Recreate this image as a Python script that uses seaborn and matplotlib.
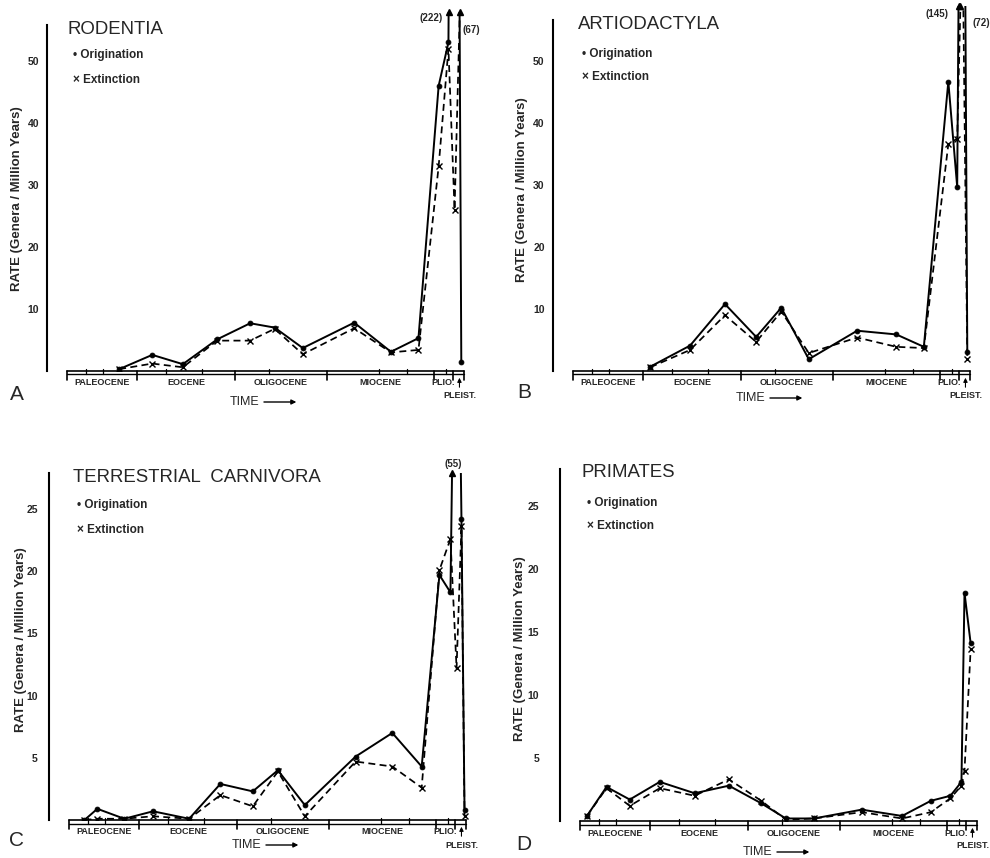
import matplotlib
matplotlib.use("Agg")
import matplotlib.pyplot as plt
import seaborn as sns

# time axis: millions of years, negative = before present
epoch_bounds = [-65, -53.5, -37.5, -22.5, -5, -1.8, 0]
epoch_names = ["PALEOCENE", "EOCENE", "OLIGOCENE", "MIOCENE"]
sub_bounds = [-61.9, -59, -48.8, -42.8, -32, -14, -9.3, -3]

# A - Rodentia
rod_time = [-56.4, -51.0, -46.0, -40.4, -35.0, -31.0, -26.4, -18.0, -12.0, -7.5, -4.2, -2.6, -1.6, -0.5]
rod_orig = [0.3, 2.6, 1.1, 5.1, 7.7, 7.0, 3.7, 7.8, 3.1, 5.3, 46.0, 53.0, 222, 1.5]
rod_ext = [0.3, 1.2, 0.6, 4.9, 4.9, 6.8, 2.7, 6.9, 3.0, 3.4, 33.0, 52.0, 26.0, 67]

# B - Artiodactyla
art_time = [-52.3, -45.8, -40.1, -35.0, -30.9, -26.4, -18.5, -12.1, -7.6, -3.6, -2.15, -1.3, -0.5]
art_orig = [0.7, 4.1, 10.8, 5.5, 10.2, 1.9, 6.5, 5.9, 3.9, 46.7, 29.7, 145, 3.1]
art_ext = [0.6, 3.4, 9.0, 4.7, 9.6, 2.9, 5.4, 3.9, 3.7, 36.6, 37.5, 72, 2.0]

# C - Terrestrial Carnivora
car_time = [-62.4, -60.3, -55.9, -51.2, -45.3, -40.2, -34.9, -30.8, -26.4, -18.1, -12.1, -7.3, -4.4, -2.6, -1.6, -0.8, -0.3]
car_orig = [0.0, 0.9, 0.1, 0.7, 0.1, 2.9, 2.3, 4.0, 1.2, 5.1, 7.0, 4.3, 19.7, 18.3, 55, 24.2, 0.8]
car_ext = [0.0, 0.1, 0.1, 0.3, 0.1, 2.0, 1.1, 3.9, 0.3, 4.7, 4.3, 2.6, 20.1, 22.6, 12.2, 23.6, 0.3]

# D - Primates
pri_time = [-63.8, -60.6, -56.8, -51.9, -46.2, -40.6, -35.3, -31.3, -26.7, -18.9, -12.3, -7.6, -4.4, -2.6, -2.1, -1.1]
pri_orig = [0.4, 2.7, 1.7, 3.1, 2.2, 2.8, 1.4, 0.2, 0.2, 0.9, 0.4, 1.6, 2.0, 3.1, 18.1, 14.1]
pri_ext = [0.4, 2.6, 1.2, 2.6, 2.0, 3.3, 1.6, 0.1, 0.2, 0.7, 0.2, 0.7, 1.8, 2.8, 4.0, 13.6]

W, H = 990, 858
sns.set_style("white")
plt.rcParams["font.family"] = ["Liberation Sans", "DejaVu Sans"]

fig = plt.figure(figsize=(W / 100, H / 100), dpi=100)
PT = 100 / 72  # pixels per point


def draw_panel(rect_px, title, t, orig, ext, ymax, spine_top, yticks, tick_pad,
               ylab_xy, title_xy, leg_xy, time_drop, offscale):
    left, top, width, bottom = rect_px
    hpx = bottom - top
    ax = fig.add_axes([left / W, 1 - bottom / H, width / W, hpx / H])

    sns.lineplot(x=t, y=orig, ax=ax, color="black", linewidth=1.4, marker="o",
                 markersize=3.5, markeredgecolor="black", markeredgewidth=0.6,
                 sort=False, errorbar=None)
    sns.lineplot(x=t, y=ext, ax=ax, color="black", linewidth=1.25,
                 linestyle=(0, (4, 2.5)), marker="x", markersize=4,
                 markeredgecolor="black", markeredgewidth=1.0,
                 sort=False, errorbar=None)

    ax.set_xlim(-68.2, 1.2)
    ax.set_ylim(0, ymax)
    for s in ["top", "right", "bottom"]:
        ax.spines[s].set_visible(False)
    ax.spines["left"].set_linewidth(1.5)
    ax.spines["left"].set_color("black")
    ax.spines["left"].set_bounds(0, spine_top)
    ax.set_xticks([])
    ax.set_yticks(yticks)
    ax.set_yticklabels([str(v) for v in yticks], fontweight="bold")
    ax.tick_params(axis="y", direction="out", length=2, width=1, labelsize=7.5,
                   pad=tick_pad, color="black")
    ax.set_xlabel("")
    ax.set_ylabel("RATE (Genera / Million Years)", fontsize=9.5, fontweight="bold")
    ax.yaxis.set_label_coords(*ylab_xy)

    # title and legend text
    ax.text(title_xy[0], title_xy[1], title, fontsize=13.4, va="center", ha="left")
    ax.text(leg_xy[0], leg_xy[1], "\u2022 Origination", fontsize=8.5,
            fontweight="bold", va="center", ha="left")
    ax.text(leg_xy[0], leg_xy[2], "\u00d7 Extinction", fontsize=8.5,
            fontweight="bold", va="center", ha="left")

    # time bar
    tr = ax.get_xaxis_transform()

    def dy(px):
        return -px / hpx

    kw = dict(transform=tr, color="black", clip_on=False)
    ax.plot([epoch_bounds[0], epoch_bounds[-1]], [0, 0], lw=1.2, **kw)
    ax.plot([epoch_bounds[0], epoch_bounds[-1]], [dy(3.5), dy(3.5)], lw=1.0, **kw)
    for b in epoch_bounds:
        ax.plot([b, b], [0, dy(9)], lw=1.2, **kw)
    for b in sub_bounds:
        ax.plot([b, b], [dy(-2), dy(3.5)], lw=0.9, **kw)
    for i, name in enumerate(epoch_names):
        mid = (epoch_bounds[i] + epoch_bounds[i + 1]) / 2
        ax.text(mid, dy(12), name, transform=tr, ha="center", va="center",
                fontsize=6.5, fontweight="bold")
    ax.text((epoch_bounds[4] + epoch_bounds[5]) / 2, dy(12), "PLIO.", transform=tr,
            ha="center", va="center", fontsize=6.5, fontweight="bold")
    ax.text(-0.8, dy(25), "PLEIST.", transform=tr, ha="center", va="center",
            fontsize=6.5, fontweight="bold")
    ax.annotate("", xy=(-0.8, dy(4)), xycoords=tr, xytext=(-0.8, dy(19)),
                textcoords=tr, annotation_clip=False,
                arrowprops=dict(arrowstyle="-|>", lw=0.8, color="black",
                                mutation_scale=6))
    ax.text(-38.3, dy(time_drop), "TIME", transform=tr, ha="left", va="center",
            fontsize=9)
    ax.annotate("", xy=(-27.0, dy(time_drop)), xycoords=tr,
                xytext=(-33.2, dy(time_drop)), textcoords=tr,
                annotation_clip=False,
                arrowprops=dict(arrowstyle="-|>", lw=1.0, color="black",
                                mutation_scale=7))

    # off-scale values: arrow head at the top and value in brackets
    series = {"orig": orig, "ext": ext}
    for key, (dx_px, dy_px, ha) in offscale.items():
        v = series[key]
        i = next(k for k in range(len(v)) if v[k] > ymax)
        tc = t[i - 1] + (ymax - v[i - 1]) / (v[i] - v[i - 1]) * (t[i] - t[i - 1])
        ax.plot([tc], [ymax], marker="^", markersize=4, color="black",
                clip_on=False)
        ax.annotate(f"({v[i]:g})", xy=(tc, ymax), xycoords="data",
                    xytext=(dx_px / PT, dy_px / PT), textcoords="offset points",
                    ha=ha, va="center", fontsize=7, fontweight="bold",
                    annotation_clip=False)
    return ax


draw_panel((47, 12, 424.7, 371), "RODENTIA", rod_time, rod_orig, rod_ext,
           57.9, 55.8, [10, 20, 30, 40, 50], 3.5, (-0.056, 0.48),
           (-64.8, 55.0), (-63.95, 51.0, 46.9), 31,
           {"orig": (-6, -6, "right"), "ext": (3, -18, "left")})
draw_panel((553, 6, 424.7, 371), "ARTIODACTYLA", art_time, art_orig, art_ext,
           58.9, 56.6, [10, 20, 30, 40, 50], 4, (-0.06, 0.496),
           (-64.1, 55.9), (-63.5, 51.2, 47.5), 27,
           {"orig": (-10, -8, "right"), "ext": (12, -17, "left")})
draw_panel((49, 473, 424.7, 820), "TERRESTRIAL  CARNIVORA", car_time, car_orig,
           car_ext, 27.9, 27.9, [5, 10, 15, 20, 25], 6, (-0.052, 0.52),
           (-64.3, 27.5), (-63.6, 25.3, 23.3), 25,
           {"orig": (1, 9, "center")})
draw_panel((560, 469, 424.7, 821), "PRIMATES", pri_time, pri_orig, pri_ext,
           27.9, 27.9, [5, 10, 15, 20, 25], 13, (-0.08, 0.49),
           (-64.65, 27.66), (-63.8, 25.2, 23.4), 31, {})

for letter, x, y in [("A", 17, 394), ("B", 524, 393), ("C", 17, 840), ("D", 524, 845)]:
    fig.text(x / W, 1 - y / H, letter, fontsize=15, ha="center", va="center")

fig.savefig("out.png", dpi=100)
